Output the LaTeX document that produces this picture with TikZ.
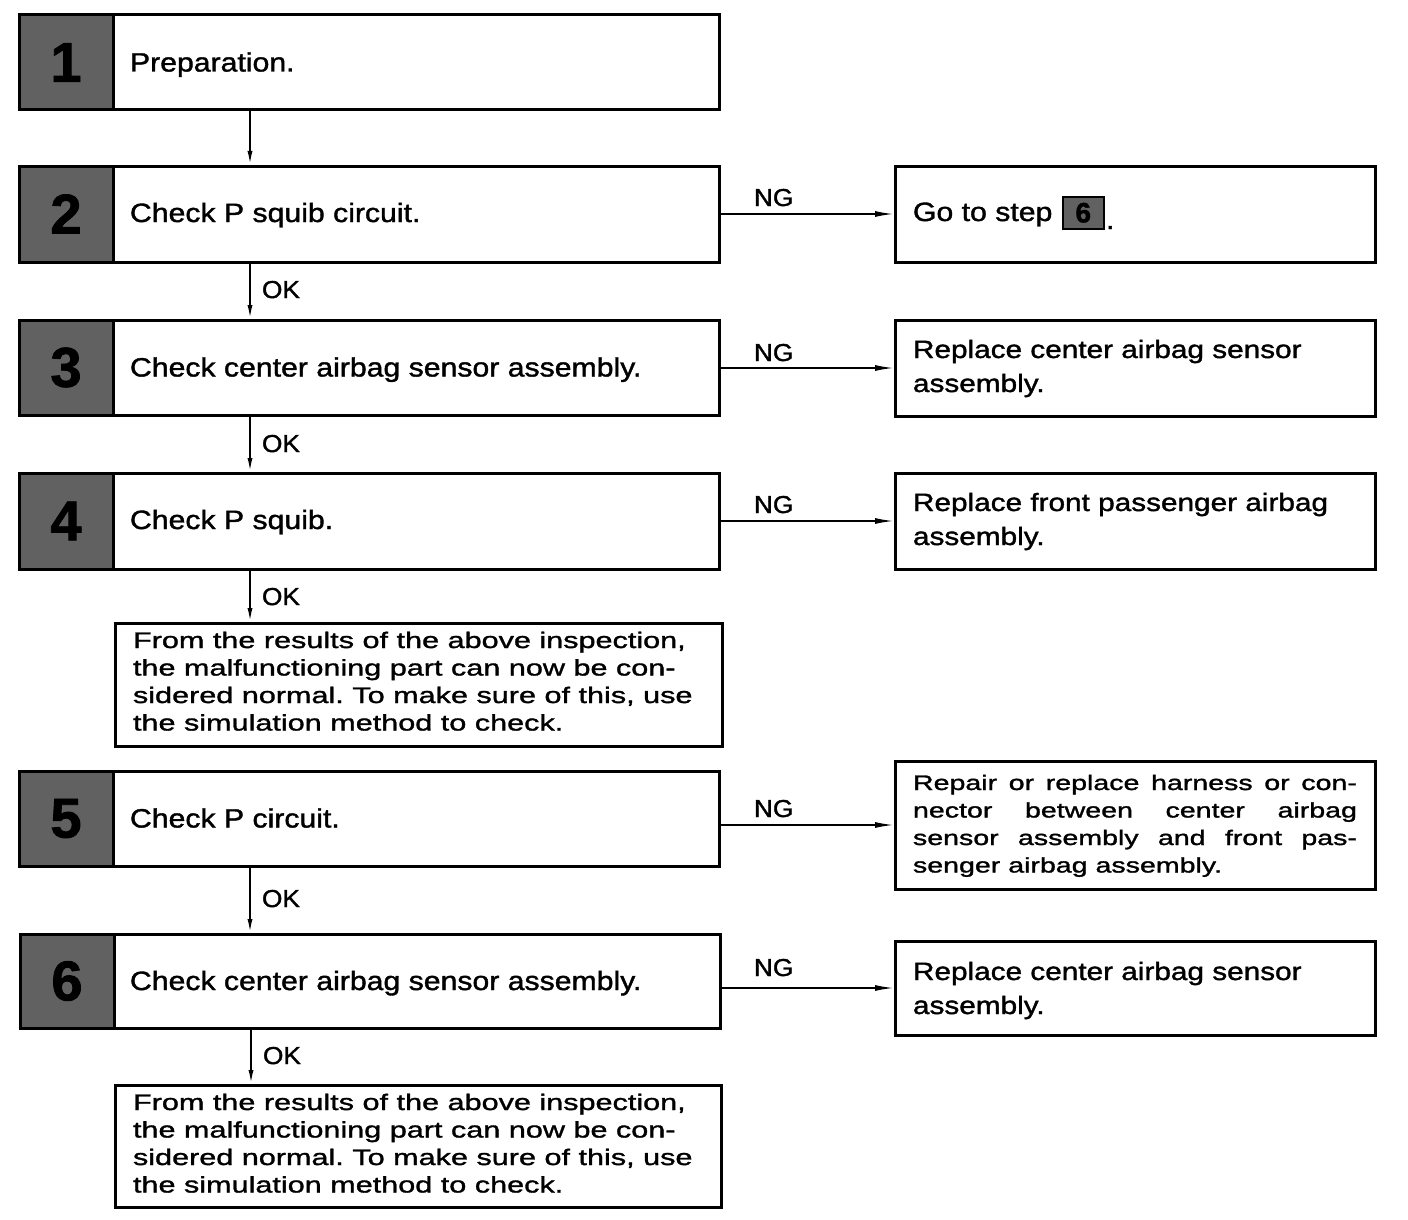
\documentclass[tikz,border=0pt]{standalone}
\usepackage{fontspec}
\setmainfont{Liberation Sans}
\usetikzlibrary{arrows.meta,calc}
\newfontfamily\stepf[FakeStretch=1.14,FakeBold=1.4]{Liberation Sans}
\newfontfamily\resf[FakeStretch=1.19,FakeBold=1.4]{Liberation Sans}
\newfontfamily\smallf[FakeStretch=1.36,FakeBold=1.4]{Liberation Sans}
\newfontfamily\labf[FakeStretch=1.07,FakeBold=1.4]{Liberation Sans}
\newfontfamily\numf[FakeBold=1.5]{Liberation Sans Bold}
\frenchspacing
\begin{document}
\begin{tikzpicture}[x=1pt,y=-1pt,
  stepbox/.style={draw, line width=3pt, minimum width=700pt, minimum height=95pt, anchor=north west, inner sep=0pt, outer sep=0pt},
  numbox/.style={draw, fill=black!62, line width=3pt, minimum width=94pt, minimum height=95pt, anchor=north west, inner sep=0pt, outer sep=0pt, font=\numf\fontsize{56}{56}\selectfont},
  resbox/.style={draw, line width=3pt, minimum width=480pt, anchor=north west, inner sep=0pt, outer sep=0pt},
  notebox/.style={draw, line width=3pt, anchor=north west, inner sep=0pt, outer sep=0pt},
  txt/.style={anchor=base west, inner sep=0pt, outer sep=0pt},
  steptxt/.style={txt, font=\stepf\fontsize{26.5}{32}\selectfont},
  restxt/.style={txt, font=\resf\fontsize{25}{34}\selectfont},
  notetxt/.style={txt, font=\smallf\fontsize{22.5}{27.5}\selectfont},
  r5txt/.style={txt, font=\smallf\fontsize{21}{27.5}\selectfont},
  lab/.style={txt, font=\labf\fontsize{24.5}{28}\selectfont},
  conn/.style={line width=2pt, -{Latex[length=15pt,width=5pt]}},
  ngconn/.style={line width=2pt, -{Latex[length=20pt,width=6pt]}}
]
\path[use as bounding box, fill=white] (0,0) rectangle (1408,1220);
\coordinate (vx) at (250,0);

% step boxes
\node[stepbox] (s1) at (19,15) {};
\node[stepbox, minimum height=96pt] (s2) at (19,166) {};
\node[stepbox] (s3) at (19,320) {};
\node[stepbox, minimum height=96pt] (s4) at (19,473) {};
\node[stepbox] (s5) at (19,771) {};
\node[stepbox, minimum height=94pt] (s6) at (20,934) {};

\node[numbox] (g1) at (s1.north west) {1};
\node[numbox, minimum height=96pt] (g2) at (s2.north west) {2};
\node[numbox] (g3) at (s3.north west) {3};
\node[numbox, minimum height=96pt] (g4) at (s4.north west) {4};
\node[numbox] (g5) at (s5.north west) {5};
\node[numbox, minimum height=94pt] (g6) at (s6.north west) {6};

\node[steptxt] (t1) at ($(s1.west)+(111,9)$) {Preparation.};
\node[steptxt] (t2) at ($(s2.west)+(111,8)$) {Check P squib circuit.};
\node[steptxt] (t3) at ($(s3.west)+(111,9)$) {Check center airbag sensor assembly.};
\node[steptxt] (t4) at ($(s4.west)+(111,8)$) {Check P squib.};
\node[steptxt] (t5) at ($(s5.west)+(111,9)$) {Check P circuit.};
\node[steptxt] (t6) at ($(s6.west)+(110,9)$) {Check center airbag sensor assembly.};

% note boxes
\node[notebox, minimum width=607pt, minimum height=123pt] (f4) at (115,623) {};
\node[notetxt] (ft4) at (133,648) {\parbox[t]{580pt}{\raggedright From the results of the above inspection,\\the malfunctioning part can now be con-\\sidered normal. To make sure of this, use\\the simulation method to check.}};
\node[notebox, minimum width=606pt, minimum height=122pt] (f6) at (115,1085) {};
\node[notetxt] (ft6) at (133,1110) {\parbox[t]{580pt}{\raggedright From the results of the above inspection,\\the malfunctioning part can now be con-\\sidered normal. To make sure of this, use\\the simulation method to check.}};

% result boxes
\node[resbox, minimum height=96pt] (r2) at (895,166) {};
\node[resbox, minimum height=96pt] (r3) at (895,320) {};
\node[resbox, minimum height=96pt] (r4) at (895,473) {};
\node[resbox, minimum height=128pt] (r5) at (895,761) {};
\node[resbox, minimum height=94pt] (r6) at (895,941) {};

\node[steptxt] (rt2) at (913,221) {Go to step};
\node[draw, line width=1.5pt, fill=black!62, minimum width=41pt, minimum height=32pt, anchor=north west, inner sep=0pt, font=\numf\fontsize{28}{28}\selectfont] (rg2) at (1062,196) {6};
\node[steptxt] (rd2) at (1106,229) {.};
\node[restxt] (rt3) at (913,358) {\parbox[t]{450pt}{Replace center airbag sensor\\assembly.}};
\node[restxt] (rt4) at (913,511) {\parbox[t]{450pt}{Replace front passenger airbag\\assembly.}};
\node[r5txt] (rt5) at (913,790) {\parbox[t]{450pt}{\makebox[444pt][s]{Repair or replace harness or con-}\\\makebox[444pt][s]{nector between center airbag}\\\makebox[444pt][s]{sensor assembly and front pas-}\\senger airbag assembly.}};
\node[restxt] (rt6) at (913,980) {\parbox[t]{450pt}{Replace center airbag sensor\\assembly.}};

% vertical connectors
\draw[conn] (s1.south -| vx) -- (s2.north -| vx);
\draw[conn] (s2.south -| vx) -- (s3.north -| vx);
\draw[conn] (s3.south -| vx) -- (s4.north -| vx);
\draw[conn] (s4.south -| vx) -- (f4.north -| vx);
\draw[conn] (s5.south -| vx) -- (s6.north -| vx);
\draw[conn] ($(s6.south -| vx)+(1,0)$) -- ($(f6.north -| vx)+(1,0)$);

\node[lab] (ok2) at (262,298) {OK};
\node[lab] (ok3) at (262,452) {OK};
\node[lab] (ok4) at (262,605) {OK};
\node[lab] (ok5) at (262,907) {OK};
\node[lab] (ok6) at (263,1064) {OK};

% NG connectors
\draw[ngconn] (r2.west -| s2.east) -- (r2.west);
\draw[ngconn] (r3.west -| s3.east) -- (r3.west);
\draw[ngconn] (r4.west -| s4.east) -- (r4.west);
\draw[ngconn] (r5.west -| s5.east) -- (r5.west);
\draw[ngconn] (r6.west -| s6.east) -- (r6.west);

\node[lab] (ng2) at (754,206) {NG};
\node[lab] (ng3) at (754,361) {NG};
\node[lab] (ng4) at (754,513) {NG};
\node[lab] (ng5) at (754,817) {NG};
\node[lab] (ng6) at (754,976) {NG};
\end{tikzpicture}
\end{document}
